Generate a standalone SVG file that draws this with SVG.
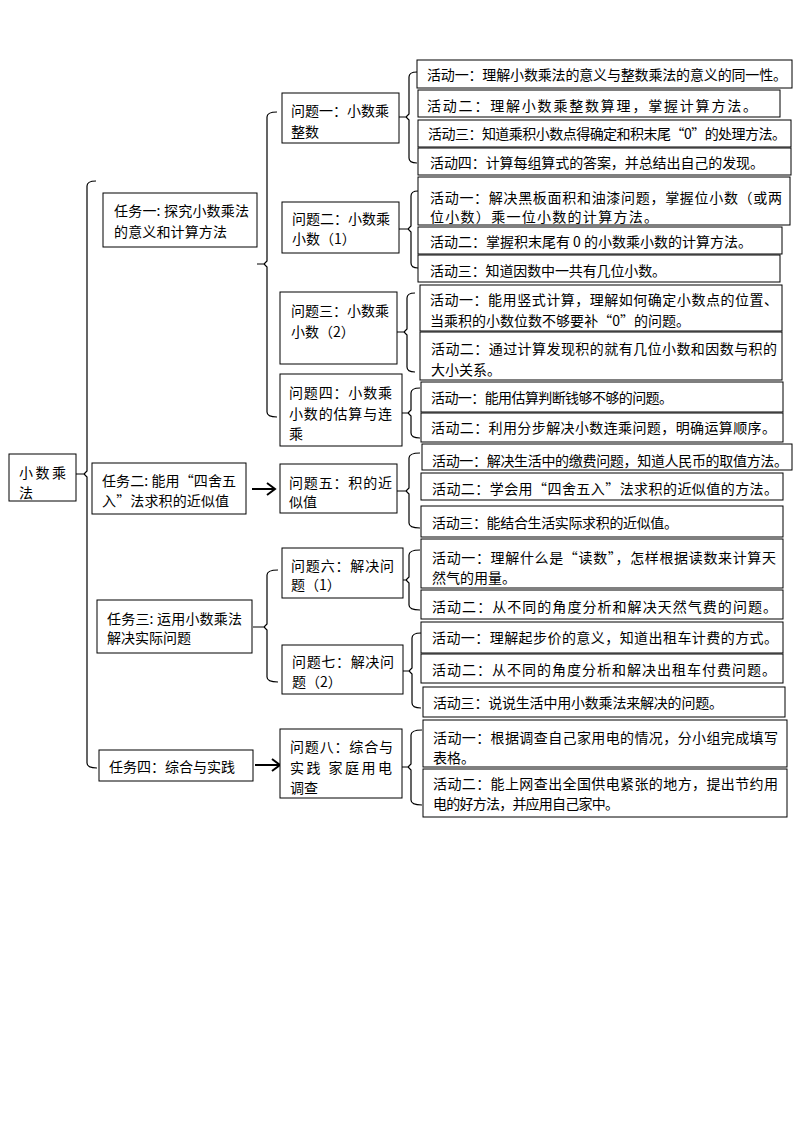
<svg xmlns="http://www.w3.org/2000/svg" width="794" height="1123" viewBox="0 0 794 1123">
<style>
.box{fill:#fff;stroke:#000;stroke-width:1}
.t{font-family:"Noto Sans CJK SC","Noto Sans CJK JP",sans-serif;font-size:14px;fill:#000;dominant-baseline:central}
.br{fill:none;stroke:#000;stroke-width:1.2}
.ar{fill:none;stroke:#000;stroke-width:2}
</style>
<rect width="794" height="1123" fill="#fff"/>
<g id="connectors">
<path class="br" d="M96,181 Q87,181 87,186 V471 L84,474 L87,477 V763 Q87,768 97,768 M84,474 H76"/>
<path class="br" d="M277,112 Q267,112 267,117 V261 L264,264 L267,267 V412 Q267,417 277,417 M264,264 H257"/>
<path class="br" d="M278,570 Q267,570 267,575 V624 L264,627 L267,630 V677 Q267,682 278,682 M264,627 H253"/>
<path class="ar" d="M252,489 H275 M267,483 L275,489 L267,495"/>
<path class="ar" d="M255,765 H280 M272,759 L280,765 L272,771"/>
<path class="br" d="M417,72 Q409,72 409,77 V114 L406,117 L409,120 V158 Q409,163 417,163 M406,117 H399"/>
<path class="br" d="M418,191 Q411,191 411,196 V226 L408,229 L411,232 V263 Q411,268 418,268 M408,229 H399"/>
<path class="br" d="M415,293 Q407,293 407,298 V329 L404,332 L407,335 V367 Q407,372 415,372 M404,332 H397"/>
<path class="br" d="M420,388 Q411,388 411,393 V410 L408,413 L411,416 V433 Q411,438 420,438 M408,413 H402"/>
<path class="br" d="M420,453 Q409,453 409,458 V488 L406,491 L409,494 V523 Q409,528 420,528 M406,491 H397"/>
<path class="br" d="M420,550 Q409,550 409,555 V577 L406,580 L409,583 V605 Q409,610 420,610 M406,580 H403"/>
<path class="br" d="M421,633 Q412,633 412,638 V668 L409,671 L412,674 V703 Q412,708 421,708 M409,671 H403"/>
<path class="br" d="M422,730 Q411,730 411,735 V764 L408,767 L411,770 V800 Q411,805 422,805 M408,767 H402"/>
</g>
<g id="root"><rect class="box" x="9" y="454" width="67" height="47"/><text class="t" x="19" y="472" textLength="47">小数乘</text><text class="t" x="19" y="492">法</text></g>
<g id="task1"><rect class="box" x="103" y="193" width="154" height="54"/><text class="t" x="114" y="210" textLength="135">任务一: 探究小数乘法</text><text class="t" x="114" y="231" textLength="113">的意义和计算方法</text></g>
<g id="task2"><rect class="box" x="92" y="463" width="154" height="51"/><text class="t" x="102" y="480" textLength="134">任务二: 能用“四舍五</text><text class="t" x="102" y="500" textLength="127">入”法求积的近似值</text></g>
<g id="task3"><rect class="box" x="97" y="600" width="155" height="53"/><text class="t" x="107" y="618" textLength="135">任务三: 运用小数乘法</text><text class="t" x="107" y="637">解决实际问题</text></g>
<g id="task4"><rect class="box" x="99" y="750" width="154" height="31"/><text class="t" x="109" y="766" textLength="126">任务四：综合与实践</text></g>
<g id="q1"><rect class="box" x="282" y="93" width="117" height="50"/><text class="t" x="291" y="110">问题一：小数乘</text><text class="t" x="291" y="131">整数</text></g>
<g id="q2"><rect class="box" x="282" y="202" width="117" height="51"/><text class="t" x="292" y="218">问题二：小数乘</text><text class="t" x="292" y="238">小数（1）</text></g>
<g id="q3"><rect class="box" x="280" y="292" width="117" height="72"/><text class="t" x="291" y="310">问题三：小数乘</text><text class="t" x="291" y="331">小数（2）</text></g>
<g id="q4"><rect class="box" x="280" y="374" width="122" height="72"/><text class="t" x="289" y="392" textLength="103">问题四：小数乘</text><text class="t" x="289" y="413" textLength="103">小数的估算与连</text><text class="t" x="289" y="433">乘</text></g>
<g id="q5"><rect class="box" x="280" y="464" width="117" height="49"/><text class="t" x="289" y="482" textLength="103">问题五：积的近</text><text class="t" x="289" y="501">似值</text></g>
<g id="q6"><rect class="box" x="282" y="548" width="121" height="50"/><text class="t" x="291" y="565" textLength="103">问题六：解决问</text><text class="t" x="291" y="584">题（1）</text></g>
<g id="q7"><rect class="box" x="282" y="645" width="121" height="49"/><text class="t" x="292" y="661" textLength="102">问题七：解决问</text><text class="t" x="292" y="681">题（2）</text></g>
<g id="q8"><rect class="box" x="280" y="729" width="122" height="69"/><text class="t" x="290" y="746" textLength="103">问题八：综合与</text><text class="t" x="290" y="767" textLength="102">实践 家庭用电</text><text class="t" x="290" y="787">调查</text></g>
<g id="a1-1"><rect class="box" x="417" y="60" width="375" height="28"/><text class="t" x="427" y="74" textLength="360">活动一：理解小数乘法的意义与整数乘法的意义的同一性。</text></g>
<g id="a1-2"><rect class="box" x="418" y="90" width="362" height="27"/><text class="t" x="427" y="105" textLength="330">活动二：理解小数乘整数算理，掌握计算方法。</text></g>
<g id="a1-3"><rect class="box" x="418" y="120" width="373" height="27"/><text class="t" x="428" y="133" textLength="358">活动三：知道乘积小数点得确定和积末尾“0”的处理方法。</text></g>
<g id="a1-4"><rect class="box" x="418" y="148" width="373" height="27"/><text class="t" x="430" y="162" textLength="334">活动四：计算每组算式的答案，并总结出自己的发现。</text></g>
<g id="a2-1"><rect class="box" x="418" y="177" width="372" height="48"/><text class="t" x="430" y="197" textLength="352">活动一：解决黑板面积和油漆问题，掌握位小数（或两</text><text class="t" x="430" y="216" textLength="228">位小数）乘一位小数的计算方法。</text></g>
<g id="a2-2"><rect class="box" x="418" y="227" width="364" height="27"/><text class="t" x="430" y="241" textLength="322">活动二：掌握积末尾有 0 的小数乘小数的计算方法。</text></g>
<g id="a2-3"><rect class="box" x="418" y="255" width="362" height="27"/><text class="t" x="430" y="270" textLength="236">活动三：知道因数中一共有几位小数。</text></g>
<g id="a3-1"><rect class="box" x="420" y="285" width="362" height="46"/><text class="t" x="430" y="299" textLength="348">活动一：能用竖式计算，理解如何确定小数点的位置、</text><text class="t" x="430" y="320" textLength="260">当乘积的小数位数不够要补“0”的问题。</text></g>
<g id="a3-2"><rect class="box" x="420" y="332" width="362" height="48"/><text class="t" x="431" y="348" textLength="346">活动二：通过计算发现积的就有几位小数和因数与积的</text><text class="t" x="431" y="369">大小关系。</text></g>
<g id="a4-1"><rect class="box" x="421" y="382" width="362" height="30"/><text class="t" x="431" y="397" textLength="242">活动一：能用估算判断钱够不够的问题。</text></g>
<g id="a4-2"><rect class="box" x="421" y="413" width="362" height="29"/><text class="t" x="431" y="427" textLength="345">活动二：利用分步解决小数连乘问题，明确运算顺序。</text></g>
<g id="a5-1"><rect class="box" x="422" y="444" width="370" height="26"/><text class="t" x="432" y="460" textLength="356">活动一：解决生活中的缴费问题，知道人民币的取值方法。</text></g>
<g id="a5-2"><rect class="box" x="421" y="473" width="362" height="27"/><text class="t" x="432" y="488" textLength="346">活动二：学会用“四舍五入”法求积的近似值的方法。</text></g>
<g id="a5-3"><rect class="box" x="421" y="506" width="362" height="31"/><text class="t" x="432" y="522" textLength="246">活动三：能结合生活实际求积的近似值。</text></g>
<g id="a6-1"><rect class="box" x="421" y="539" width="362" height="49"/><text class="t" x="432" y="557" textLength="344">活动一：理解什么是“读数”，怎样根据读数来计算天</text><text class="t" x="432" y="577" textLength="84">然气的用量。</text></g>
<g id="a6-2"><rect class="box" x="421" y="590" width="362" height="29"/><text class="t" x="432" y="606" textLength="345">活动二：从不同的角度分析和解决天然气费的问题。</text></g>
<g id="a7-1"><rect class="box" x="421" y="622" width="362" height="31"/><text class="t" x="432" y="637" textLength="346">活动一：理解起步价的意义，知道出租车计费的方式。</text></g>
<g id="a7-2"><rect class="box" x="421" y="654" width="362" height="29"/><text class="t" x="432" y="669" textLength="344">活动二：从不同的角度分析和解决出租车付费问题。</text></g>
<g id="a7-3"><rect class="box" x="423" y="687" width="362" height="30"/><text class="t" x="433" y="702" textLength="290">活动三：说说生活中用小数乘法来解决的问题。</text></g>
<g id="a8-1"><rect class="box" x="423" y="720" width="364" height="47"/><text class="t" x="433" y="737" textLength="345">活动一：根据调查自己家用电的情况，分小组完成填写</text><text class="t" x="433" y="757">表格。</text></g>
<g id="a8-2"><rect class="box" x="423" y="769" width="364" height="48"/><text class="t" x="433" y="783" textLength="345">活动二：能上网查出全国供电紧张的地方，提出节约用</text><text class="t" x="433" y="803" textLength="186">电的好方法，并应用自己家中。</text></g>
</svg>
